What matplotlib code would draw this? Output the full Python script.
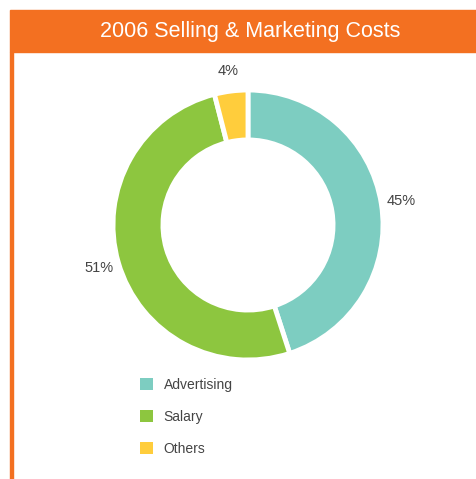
import matplotlib.pyplot as plt
from matplotlib.patches import Rectangle, Patch

# data
categories = ['Advertising', 'Salary', 'Others']
shares = [45, 51, 4]
colors = ['#7dcdc1', '#8dc63f', '#ffcd3c']
title = '2006 Selling & Marketing Costs'
orange = '#f37021'

W, H = 476, 479
fig = plt.figure(figsize=(W / 100, H / 100), dpi=100)
fig.patch.set_facecolor('white')

# header bar and left border
fig.patches.append(Rectangle((10 / W, 1 - 52 / H), 1 - 10 / W, 42 / H,
                             transform=fig.transFigure, color=orange, zorder=0))
fig.patches.append(Rectangle((10 / W, 0), 3 / W, 1 - 52 / H,
                             transform=fig.transFigure, color=orange, zorder=0))
fig.text(250 / W, 1 - 32 / H, title, color='white', fontsize=15.5,
         ha='center', va='center', family='Liberation Sans')

# donut
cx, cy, R = 248, 479 - 225, 135
ax = fig.add_axes([(cx - R) / W, (cy - R) / H, 2 * R / W, 2 * R / H])
wedges, texts = ax.pie(shares, colors=colors, startangle=90, counterclock=False,
                       radius=1, labels=[f'{s}%' for s in shares], labeldistance=1.15,
                       wedgeprops=dict(width=0.37, edgecolor='white', linewidth=3.5),
                       textprops=dict(fontsize=10.5, color='#444444', family='Liberation Sans'))
for t in texts:
    t.set_ha('center')
    t.set_va('center')
ax.set_xlim(-1, 1)
ax.set_ylim(-1, 1)
ax.set_aspect('equal')
ax.axis('off')

handles = [Patch(facecolor=c, edgecolor='none') for c in colors]
leg = fig.legend(handles, categories, loc='upper left', bbox_to_anchor=(140 / W, 1 - 378 / H),
                 frameon=False, handlelength=0.95, handleheight=0.95,
                 handletextpad=0.75, labelspacing=1.28, borderpad=0, borderaxespad=0,
                 prop=dict(family='Liberation Sans', size=10))
for t in leg.get_texts():
    t.set_color('#444444')

fig.savefig('out.png', dpi=100)
